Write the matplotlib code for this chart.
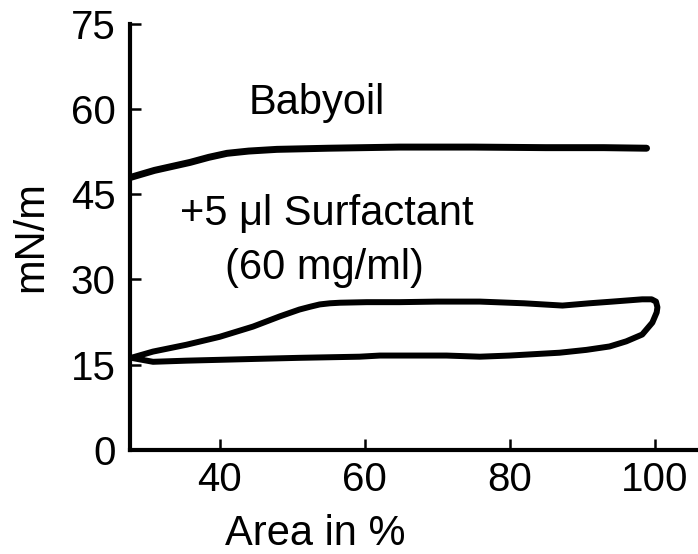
import matplotlib.pyplot as plt

plt.rcParams['font.family'] = ['Liberation Sans', 'DejaVu Sans']

# babyoil alone: surface tension vs area
oil_area = [27.8, 31.0, 35.9, 38.5, 41.0, 44.0, 47.9, 55.0, 64.8, 75.0, 85.0, 93.0, 98.9]
oil_tension = [48.0, 49.2, 50.6, 51.5, 52.2, 52.6, 52.9, 53.1, 53.3, 53.3, 53.2, 53.2, 53.1]

# babyoil + surfactant: hysteresis loop (upper branch, turn, lower branch)
loop_area = [27.8, 30.8, 35.4, 40.0, 44.6, 48.3, 51.0, 52.5, 53.8, 55.2, 56.6, 60.3, 64.8,
             70.0, 75.9, 82.0, 87.3, 91.0, 94.2, 98.3, 99.6, 100.2, 100.4,
             100.3, 99.7, 98.3, 96.1, 93.8, 90.6, 86.9, 80.0, 75.9, 71.3,
             62.1, 59.3, 51.0, 44.6, 35.4, 30.8, 27.8]
loop_tension = [16.2, 17.3, 18.5, 19.9, 21.7, 23.5, 24.7, 25.2, 25.6, 25.8, 25.9, 26.0, 26.0,
                26.1, 26.1, 25.8, 25.4, 25.8, 26.1, 26.5, 26.5, 26.1, 25.1,
                24.2, 22.4, 20.3, 19.1, 18.2, 17.6, 17.1, 16.6, 16.4, 16.6,
                16.6, 16.4, 16.2, 16.0, 15.7, 15.5, 16.2]

x_ticks = [40, 60, 80, 100]
y_ticks = [0, 15, 30, 45, 60, 75]

fig = plt.figure(figsize=(6.98, 5.54), dpi=100)
ax = fig.add_axes([0.186, 0.188, 0.814, 0.769])

ax.plot(oil_area, oil_tension, color='black', lw=5, solid_capstyle='round',
        solid_joinstyle='round')
ax.plot(loop_area, loop_tension, color='black', lw=4.3, solid_capstyle='round',
        solid_joinstyle='round')

ax.set_xlim(27.6, 106)
ax.set_ylim(0, 75)
ax.set_xticks(x_ticks)
ax.set_yticks(y_ticks)

for side in ['top', 'right']:
    ax.spines[side].set_visible(False)
for side in ['left', 'bottom']:
    ax.spines[side].set_linewidth(3)
ax.tick_params(direction='in', length=8, width=1.8, labelsize=29, pad=8)
ax.tick_params(axis='y', pad=10)

ax.set_xlabel('Area in %', fontsize=30, labelpad=11)
ax.xaxis.label.set_x(0.326)
ax.set_ylabel('mN/m', fontsize=30, labelpad=14)

ax.text(53.4, 61.0, 'Babyoil', fontsize=30, ha='center', va='center')
ax.text(54.8, 41.5, '+5 μl Surfactant', fontsize=30, ha='center', va='center')
ax.text(54.5, 32.1, '(60 mg/ml)', fontsize=30, ha='center', va='center')

fig.savefig('out.png', dpi=100)
